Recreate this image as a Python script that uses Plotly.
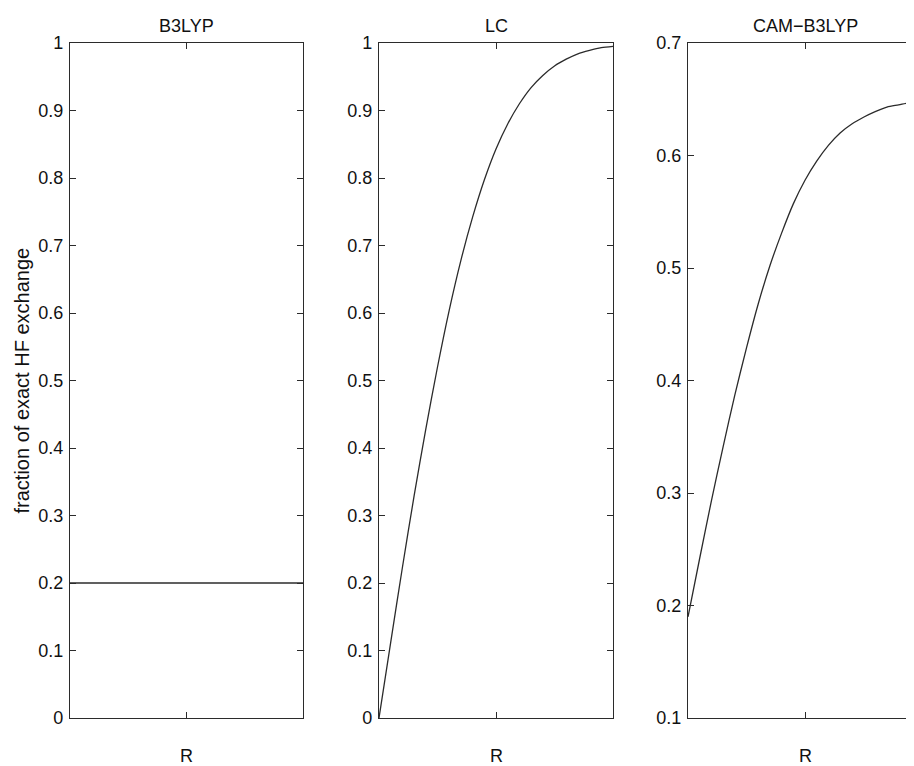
import plotly.graph_objects as go

# ---- data (R normalised to 0..1 on each panel) ----
panel_titles = ["B3LYP", "LC", "CAM\u2212B3LYP"]
x_label = "R"
y_label = "fraction of exact HF exchange"

b3lyp_r = [0.0, 1.0]
b3lyp_f = [0.2, 0.2]

lc_r = [0.0, 0.05, 0.1, 0.15, 0.2, 0.25, 0.3, 0.35, 0.4, 0.45, 0.5,
        0.55, 0.6, 0.65, 0.7, 0.75, 0.8, 0.85, 0.9, 0.95, 1.0]
lc_f = [0.0, 0.112, 0.223, 0.329, 0.428, 0.520, 0.604, 0.678, 0.742, 0.797, 0.843,
        0.880, 0.910, 0.934, 0.952, 0.966, 0.976, 0.984, 0.989, 0.993, 0.995]

cam_r = [0.0, 0.05, 0.1, 0.15, 0.2, 0.25, 0.3, 0.35, 0.4, 0.45, 0.5,
         0.55, 0.6, 0.65, 0.7, 0.75, 0.8, 0.85, 0.9, 0.95, 1.0]
cam_f = [0.190, 0.242, 0.293, 0.341, 0.387, 0.429, 0.468, 0.502, 0.531, 0.557, 0.578,
         0.595, 0.609, 0.620, 0.628, 0.634, 0.639, 0.643, 0.645, 0.647, 0.648]

lc_yticks = [round(0.1 * i, 1) for i in range(11)]
cam_yticks = [0.1, 0.2, 0.3, 0.4, 0.5, 0.6, 0.7]
x_tick = [0.5]

# ---- layout geometry (page has an 8px body margin) ----
OFF = 8
W, H = 914 - OFF, 766 - OFF
FONT = "Liberation Sans, Arial, Helvetica, sans-serif"
INK = "#2b2b2b"
px = lambda v: (v - OFF) / W
doms = [[px(70), px(303)], [px(379), px(613)], [px(688), 1.0]]
panel_w = 234
cam_xmax = (914 - 688) / panel_w  # third panel is clipped by the page edge

fig = go.Figure()
series = [(b3lyp_r, b3lyp_f), (lc_r, lc_f), (cam_r, cam_f)]
for i, (xr, yv) in enumerate(series):
    ax = "" if i == 0 else str(i + 1)
    fig.add_trace(go.Scatter(x=xr, y=yv, mode="lines",
                             line=dict(color=INK, width=1.3, shape="spline", smoothing=0.8),
                             xaxis="x" + ax, yaxis="y" + ax, showlegend=False,
                             hoverinfo="skip", cliponaxis=True))

axis_common = dict(showgrid=False, zeroline=False, showline=True, linecolor=INK,
                   linewidth=1.2, ticks="inside", ticklen=6, tickcolor=INK,
                   tickwidth=1, tickfont=dict(family=FONT, size=18, color="#111"))

layout = dict(width=W, height=H, margin=dict(l=0, r=0, t=43 - OFF, b=48),
              paper_bgcolor="white", plot_bgcolor="white",
              font=dict(family=FONT, color="#111"), showlegend=False)

for i in range(3):
    ax = "" if i == 0 else str(i + 1)
    xr = [0, 1] if i < 2 else [0, cam_xmax]
    layout["xaxis" + ax] = dict(axis_common, domain=doms[i], range=xr,
                                 tickvals=x_tick, ticktext=[""], mirror="allticks",
                                 anchor="y" + ax, fixedrange=True)
    if i < 2:
        layout["yaxis" + ax] = dict(axis_common, domain=[0, 1], range=[0, 1],
                                     tickvals=lc_yticks,
                                     ticktext=[f"{v:g}" for v in lc_yticks],
                                     mirror="allticks", anchor="x" + ax,
                                     ticklabelstandoff=2, fixedrange=True)
    else:
        layout["yaxis" + ax] = dict(axis_common, domain=[0, 1], range=[0.1, 0.7],
                                     tickvals=cam_yticks,
                                     ticktext=[f"{v:g}" for v in cam_yticks],
                                     mirror=False, anchor="x" + ax,
                                     ticklabelstandoff=2, fixedrange=True)

fig.update_layout(**layout)

centers = [(70 + 303) / 2, (379 + 613) / 2, (688 + 922) / 2]
for i, t in enumerate(panel_titles):
    fig.add_annotation(text=t, xref="paper", yref="paper", x=px(centers[i]), y=1,
                       xanchor="center", yanchor="bottom", yshift=5, showarrow=False,
                       font=dict(family=FONT, size=18, color="#111"))
    fig.add_annotation(text=x_label, xref="paper", yref="paper", x=px(centers[i]), y=0,
                       xanchor="center", yanchor="middle", yshift=-38, showarrow=False,
                       font=dict(family=FONT, size=18, color="#111"))

fig.add_annotation(text=y_label, xref="paper", yref="paper", x=px(21), y=0.5,
                   xanchor="center", yanchor="middle", textangle=-90, showarrow=False,
                   font=dict(family=FONT, size=20, color="#111"))

fig.write_html("out.html")
